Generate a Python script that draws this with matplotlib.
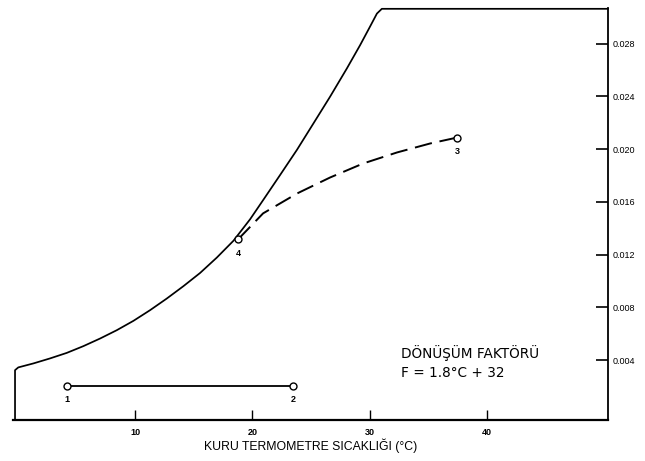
import numpy as np
import matplotlib
matplotlib.use("Agg")
import matplotlib.pyplot as plt

plt.rcParams["font.family"] = ["Liberation Sans", "DejaVu Sans"]

# ── veri ─────────────────────────────────────────────
# doyma eğrisi (resimden okunan noktalar)
sat_t = [-0.23, 0.05, 1.33, 2.75, 4.18, 5.59, 7.02, 8.44, 9.86, 11.28,
         12.70, 14.12, 15.54, 16.97, 18.38, 19.80, 20.94, 22.36,
         23.79, 25.20, 26.62, 28.05, 29.18, 30.04, 30.61, 31.03]
sat_w = [0.00324, 0.00345, 0.00375, 0.00413, 0.00455, 0.00506, 0.00564,
         0.00627, 0.00698, 0.00779, 0.00867, 0.00961, 0.01061, 0.01178,
         0.01305, 0.01468, 0.01617, 0.01804, 0.01994, 0.02195,
         0.02398, 0.02612, 0.02789, 0.02932, 0.03028, 0.03064]

# 1 -> 2 ısıtma
line12_t = [4.20, 23.47]
line12_w = [0.00203, 0.00203]

# 4 -> 3 kesikli eğri
dash_t = [18.78, 20.91, 23.81, 26.62, 29.43, 32.33, 35.15, 37.45]
dash_w = [0.01316, 0.01513, 0.01664, 0.01785, 0.01891, 0.01975, 0.02043, 0.02088]

pt_names = ["1", "2", "3", "4"]
pt_t = [4.20, 23.47, 37.45, 18.78]
pt_w = [0.00203, 0.00203, 0.02088, 0.01316]

x_ticks = [10, 20, 30, 40]
y_ticks = [0.004, 0.008, 0.012, 0.016, 0.020, 0.024, 0.028]

XMIN, XMAX = -0.4, 50.3
YMIN, YMAX = -0.00054, 0.0307

fig = plt.figure(figsize=(6.45, 4.61), dpi=100)
ax = fig.add_axes([0.0202, 0.0889, 0.9224, 0.8937])
ax.set_xlim(XMIN, XMAX)
ax.set_ylim(YMIN, YMAX)

# çerçeve: sol dikey + doyma eğrisi + üst yatay
bx = [sat_t[0]] + sat_t + [XMAX]
by = [YMIN] + sat_w + [sat_w[-1]]
ax.plot(bx, by, color="black", lw=1.25, solid_joinstyle="round",
        solid_capstyle="round", clip_on=False)

ax.plot(line12_t, line12_w, color="black", lw=1.3)
ax.plot(dash_t, dash_w, color="black", lw=1.4, ls=(0, (9, 4)))
ax.plot(pt_t, pt_w, ls="none", marker="o", ms=5, mfc="white",
        mec="black", mew=1.0, zorder=5)

for name, t, w in zip(pt_names, pt_t, pt_w):
    ax.text(t, w - 0.00105, name, ha="center", va="center",
            fontsize=6.5, fontweight="bold")

ax.text(32.7, 0.00415, "DÖNÜŞÜM FAKTÖRÜ", fontsize=9.8, ha="left",
        va="baseline", family="DejaVu Sans")
ax.text(32.7, 0.00271, "F = 1.8°C + 32", fontsize=9.8, ha="left",
        va="baseline", family="DejaVu Sans")

for s in ["top", "left"]:
    ax.spines[s].set_visible(False)
ax.spines["bottom"].set_linewidth(1.6)
ax.spines["right"].set_linewidth(1.3)

ax.set_xticks(x_ticks)
ax.set_xticklabels([str(v) for v in x_ticks], fontsize=6.5, fontweight="bold")
ax.tick_params(axis="x", direction="in", length=7, width=1.0, pad=6)

ax.yaxis.tick_right()
ax.set_yticks(y_ticks)
ax.set_yticklabels([f"{v:.3f}" for v in y_ticks], fontsize=6.5)
ax.tick_params(axis="y", direction="in", length=9, width=1.2, pad=3)

ax.set_xlabel("KURU TERMOMETRE SICAKLIĞI (°C)", fontsize=8.8, labelpad=1)

fig.savefig("out.png", dpi=100)
